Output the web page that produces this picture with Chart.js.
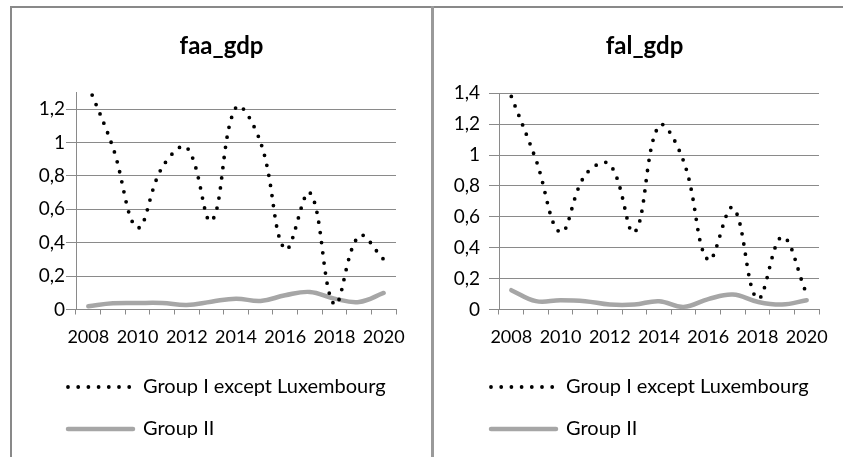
<!DOCTYPE html>
<html>
<head>
<meta charset="utf-8">
<script src="https://cdn.jsdelivr.net/npm/chart.js@4.4.1/dist/chart.umd.min.js"></script>
<style>
  html, body { margin: 0; padding: 0; background: #fff; overflow: hidden; width: 843px; height: 457px; }
  #frame { position: absolute; left: 10px; top: 6px; width: 850px; height: 470px;
           border-top: 2px solid #898989; border-left: 2px solid #898989; }
  #divider { position: absolute; left: 431px; top: 6px; width: 3px; height: 460px; background: #9a9a9a; }
  .panel { position: absolute; top: 8px; width: 419px; height: 449px; }
  #panelFaa { left: 12px; }
  #panelFal { left: 435px; }
</style>
</head>
<body>
<div id="frame"></div>
<div id="divider"></div>
<div class="panel" id="panelFaa"><canvas id="faaChart" width="419" height="449"></canvas></div>
<div class="panel" id="panelFal"><canvas id="falChart" width="419" height="449"></canvas></div>
<script>
// Years on the category axis
const years = ['2008', '2009', '2010', '2011', '2012', '2013', '2014',
               '2015', '2016', '2017', '2018', '2019', '2020'];
const seriesNames = ['Group I except Luxembourg', 'Group II'];

// faa_gdp
const faaGroupI  = [1.34, 0.97, 0.49, 0.85, 0.97, 0.53, 1.21, 1.00, 0.36, 0.70, 0.03, 0.44, 0.30];
const faaGroupII = [0.020, 0.037, 0.039, 0.039, 0.027, 0.047, 0.065, 0.051, 0.085, 0.105, 0.065, 0.045, 0.099];

// fal_gdp
const falGroupI  = [1.38, 0.97, 0.50, 0.87, 0.94, 0.50, 1.19, 0.96, 0.32, 0.66, 0.07, 0.47, 0.10];
const falGroupII = [0.125, 0.054, 0.060, 0.054, 0.032, 0.032, 0.054, 0.017, 0.067, 0.097, 0.050, 0.032, 0.060];

// Value axis ranges
const faaAxisMax = 1.3;
const falAxisMax = 1.4;
const valueStep = 0.2;

const FONT = 'Lato';
const AXIS_GREY = '#8a8a8a';

// Shift the legend rows so both keys start under the value axis
const legendOffset = {
  id: 'legendOffset',
  afterLayout(chart, args, opts) {
    const lg = chart.legend;
    if (lg) { lg.left += opts.shift; lg.right += opts.shift; }
  }
};

function commaDecimal(v) {
  return String(Math.round(v * 10) / 10).replace('.', ',');
}

function buildChart(canvasId, titleText, groupI, groupII, axisMax, cfg) {
  return new Chart(document.getElementById(canvasId), {
    type: 'line',
    data: {
      labels: years,
      datasets: [
        {
          label: seriesNames[0],
          data: groupI,
          borderColor: '#000000',
          backgroundColor: '#000000',
          borderWidth: 3.8,
          borderDash: [0, 10.2],
          borderCapStyle: 'round',
          tension: 0.4,
          pointRadius: 0,
          fill: false
        },
        {
          label: seriesNames[1],
          data: groupII,
          borderColor: '#a6a6a6',
          backgroundColor: '#a6a6a6',
          borderWidth: 4.5,
          borderCapStyle: 'round',
          borderJoinStyle: 'round',
          tension: 0.4,
          pointRadius: 0,
          fill: false
        }
      ]
    },
    plugins: [legendOffset],
    options: {
      responsive: false,
      animation: false,
      events: [],
      layout: { padding: { top: 0, left: 0, right: 0, bottom: 8 } },
      plugins: {
        tooltip: { enabled: false },
        legendOffset: { shift: 34 },
        title: {
          display: true,
          text: titleText,
          color: '#000',
          font: { family: FONT, size: 24, weight: 'bold' },
          padding: { top: 24.3, bottom: cfg.titleBottom }
        },
        legend: {
          display: true,
          position: 'bottom',
          align: 'start',
          labels: {
            usePointStyle: true,
            pointStyleWidth: 65,
            padding: 22,
            color: '#000',
            font: { family: FONT, size: 20 },
            generateLabels: (chart) => chart.data.datasets.map((ds, i) => ({
              text: ds.label,
              fillStyle: ds.borderColor,
              strokeStyle: ds.borderColor,
              lineWidth: ds.borderWidth,
              lineDash: ds.borderDash || [],
              lineCap: ds.borderCapStyle,
              pointStyle: 'line',
              hidden: false,
              datasetIndex: i,
              fontColor: '#000'
            }))
          }
        }
      },
      scales: {
        x: {
          offset: true,
          grid: { offset: true, drawOnChartArea: false, drawTicks: true, tickLength: 5, color: AXIS_GREY, lineWidth: 1 },
          border: { display: true, color: AXIS_GREY, width: 1 },
          ticks: {
            autoSkip: false, maxRotation: 0, minRotation: 0, padding: 11.5,
            color: '#000', font: { family: FONT, size: 18 },
            callback: function (value, index) { return index % 2 === 0 ? this.getLabelForValue(value) : ''; }
          },
          afterFit: (s) => { s.paddingLeft = 0; s.paddingRight = 35; s.height = 45.5; }
        },
        y: {
          min: 0,
          max: axisMax,
          grid: { drawTicks: true, tickLength: 10, color: AXIS_GREY, lineWidth: 1 },
          border: { display: true, color: AXIS_GREY, width: 1 },
          ticks: {
            stepSize: valueStep, includeBounds: false, padding: cfg.yLabelPad,
            color: '#000', font: { family: FONT, size: 19 },
            callback: (v) => commaDecimal(v)
          },
          afterFit: (s) => { s.width = 64; }
        }
      }
    }
  });
}

buildChart('faaChart', 'faa_gdp', faaGroupI, faaGroupII, faaAxisMax, { titleBottom: 31.2, yLabelPad: 1 });
buildChart('falChart', 'fal_gdp', falGroupI, falGroupII, falAxisMax, { titleBottom: 32.2, yLabelPad: 9 });
</script>
</body>
</html>
